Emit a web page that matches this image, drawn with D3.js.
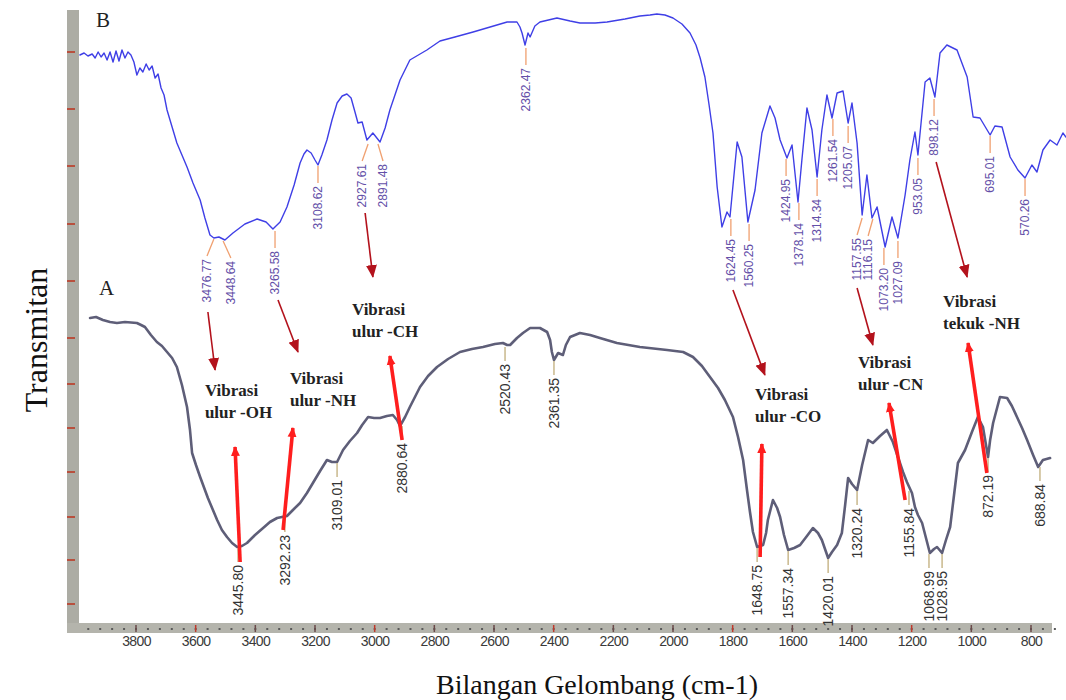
<!DOCTYPE html>
<head>
  <meta charset="utf-8">
  <title>FTIR</title>
</head>
<style>
  body {
    margin: 0;
    background: #fff;
  }
  .curve {
    fill: none;
    stroke-linejoin: round;
    stroke-linecap: round;
  }
  .b_label {
    font-family: "Liberation Sans", Arial, sans-serif;
    font-size: 12px;
    fill: #6450a8;
  }
  .a_label {
    font-family: "Liberation Sans Narrow", "Liberation Sans", sans-serif;
    font-size: 14px;
    fill: #333;
  }
  .note {
    font-family: "Liberation Serif", serif;
    font-weight: bold;
    font-size: 17px;
    fill: #222;
  }
  .x_axis text {
    font-family: "Liberation Sans", Arial, sans-serif;
    font-size: 14px;
    fill: #3a3a3a;
    letter-spacing: -0.6px;
  }
</style>
<body>
  <svg width="1066" height="700"></svg>
<script src="https://cdn.jsdelivr.net/npm/d3@7/dist/d3.min.js"></script>
<script>
  // spectrum B (upper, blue): [wavenumber on the printed axis, transmittance]
  var specB = [[3988,113.8],[3974,114.2],[3961,113.6],[3947,114],[3937,113.2],[3927,114.4],[3917,113.4],[3907,114.2],[3897,112.8],[3887,114.4],[3877,112.4],[3867,114.6],[3857,112.6],[3847,114.8],[3837,113.2],[3827,114.4],[3817,113.8],[3807,112.4],[3797,109.8],[3787,111.2],[3777,110.4],[3766,112],[3756,110.8],[3746,111.6],[3736,109.2],[3726,110],[3716,107.2],[3706,105.8],[3696,102.8],[3679,99.4],[3663,96.2],[3646,93.8],[3629,91.4],[3609,88.2],[3585,84.8],[3569,81.2],[3552,77.8],[3539,77.2],[3522,77.4],[3502,76.8],[3475,78.2],[3435,80],[3394,81],[3364,80.4],[3341,79],[3317,80.4],[3294,83.4],[3270,87.8],[3250,92.2],[3237,94],[3227,94.8],[3213,94.2],[3200,92.8],[3190,91.8],[3177,93.8],[3160,96.8],[3143,100.8],[3126,104.2],[3109,105.6],[3093,106],[3079,105.2],[3066,102.4],[3056,100.2],[3042,100.4],[3026,96.8],[3006,98.2],[2982,96.4],[2965,99.2],[2949,102.8],[2915,108.8],[2882,112.8],[2825,114.8],[2781,116.6],[2731,117.4],[2670,118.4],[2613,119.4],[2556,120.4],[2523,120.4],[2513,119.4],[2506,118.2],[2496,115.8],[2486,118.2],[2479,117.4],[2463,119.6],[2446,120.4],[2389,121.2],[2345,120.6],[2312,120.2],[2261,120.2],[2221,120.4],[2161,121],[2111,121.6],[2077,121.8],[2054,122],[2027,121.8],[2000,121.2],[1970,120],[1943,118.2],[1923,115.8],[1909,113.2],[1893,109.4],[1879,103.8],[1866,98.2],[1852,87.4],[1836,79.4],[1819,82.4],[1809,81.4],[1785,96.4],[1769,93.4],[1749,80.4],[1725,86.8],[1702,98.2],[1675,103.6],[1658,101.2],[1641,96.8],[1618,93.2],[1601,95.8],[1581,84.4],[1568,92.8],[1551,103.2],[1534,98.8],[1517,89.4],[1501,98.8],[1484,105.8],[1467,101.2],[1450,106.2],[1430,106.6],[1413,100.2],[1400,104.2],[1383,96.2],[1366,81.8],[1350,89.8],[1333,81.2],[1316,83.4],[1289,75.4],[1266,81.4],[1246,77.2],[1222,85.8],[1206,92.8],[1189,98.4],[1179,93.8],[1155,108.4],[1139,109.2],[1122,105.4],[1105,114.2],[1082,115.8],[1048,114.8],[1014,109.4],[994,101.4],[971,101.2],[937,97.8],[921,99.6],[897,99.4],[870,93.4],[844,90.8],[820,89.2],[797,91.8],[780,90.4],[760,94.8],[736,96.8],[713,95.8],[693,98.2],[683,97.4]];

  // spectrum A (lower, grey)
  var specA = [[3954,61.2],[3934,61.4],[3911,60.8],[3887,60.4],[3864,60.2],[3837,60.4],[3797,60.2],[3783,59.8],[3770,59.4],[3750,57.8],[3730,56.4],[3713,55.6],[3696,54.4],[3679,53.2],[3663,51.4],[3646,47.8],[3629,43.4],[3619,38.8],[3612,34.2],[3599,31.8],[3585,29.4],[3559,25.2],[3528,20.8],[3512,18.8],[3495,17.4],[3478,16.2],[3461,15.4],[3445,15.6],[3428,16.2],[3401,17.8],[3374,19.2],[3351,20.4],[3327,21.2],[3311,21.4],[3294,21.6],[3274,22.8],[3250,24.2],[3227,26.2],[3207,28.2],[3183,30.6],[3160,32.8],[3143,32.4],[3126,32.4],[3116,33.6],[3106,34.8],[3083,36.6],[3059,38.2],[3042,39.8],[3022,41.4],[3002,41.2],[2982,41.2],[2959,41.6],[2939,41.8],[2925,40.8],[2915,39.6],[2898,41.4],[2882,43.4],[2865,45.4],[2848,47.4],[2821,49.6],[2791,51.4],[2754,53],[2714,54.4],[2674,55],[2637,55.4],[2597,56],[2570,56.2],[2556,55.8],[2546,55.8],[2523,57.2],[2503,58.2],[2479,59.2],[2446,59.2],[2422,58.4],[2412,56.8],[2406,54.4],[2399,52.8],[2385,54.2],[2369,53.8],[2359,55.8],[2345,57.4],[2312,58.2],[2278,57.8],[2245,57.2],[2188,56.2],[2111,55.4],[2020,54.8],[1966,54.4],[1933,53.4],[1903,51.6],[1876,49.4],[1849,47.2],[1826,44.8],[1799,41.4],[1782,37.4],[1765,32.8],[1752,26.8],[1742,22.4],[1732,18.4],[1718,15.4],[1698,15.8],[1688,18.2],[1682,20.8],[1665,24.8],[1651,23.2],[1641,21.4],[1628,17.8],[1614,14.8],[1594,15.2],[1574,15.8],[1551,17.6],[1531,19.2],[1514,18.2],[1501,16.8],[1487,14.4],[1480,13.2],[1467,14.4],[1450,15.8],[1434,18.2],[1423,23.8],[1413,29.2],[1400,28],[1383,26.8],[1366,31.8],[1346,36.8],[1330,36.2],[1306,37.6],[1283,38.8],[1273,37.6],[1263,36.4],[1246,33.4],[1229,30.4],[1216,28.4],[1199,26.2],[1189,23.4],[1179,21.8],[1165,20.2],[1152,17.2],[1139,14.2],[1125,15],[1115,15.4],[1098,14.2],[1085,16.8],[1071,19.4],[1058,25.8],[1045,32.2],[1021,34.8],[998,38.4],[978,41.4],[961,39.4],[944,33.4],[937,36.8],[927,40.2],[904,45.4],[880,45.2],[864,43.6],[847,41.4],[830,39.2],[813,36.8],[793,33.8],[776,31.4],[760,32.8],[736,33.2]];

  // peak labels: text, dip wavenumber, dip transmittance, wavenumber where the text sits
  var peaksB = [["3476.77",3539,77.2,3562],["3448.64",3508,76.8,3482],["3265.58",3334,78.8,3334],["3108.62",3190,91.8,3190],["2927.61",3022,96.2,3042],["2891.48",2989,96.2,2972],["2362.47",2493,115.4,2493],["1624.45",1806,81.2,1806],["1560.25",1745,80.2,1745],["1424.95",1621,93.2,1621],["1378.14",1578,84.4,1578],["1314.34",1517,89.2,1517],["1261.54",1464,101.2,1464],["1205.07",1413,99.8,1413],["1157.55",1366,81.4,1383],["1116.15",1330,81.2,1346],["1073.20",1293,75.4,1293],["1027.09",1246,76.8,1246],["953.05",1179,93.4,1179],["898.12",1125,105.2,1125],["695.01",937,97.8,937],["570.26",820,89.2,820]];
  var peaksA = [["3445.80",3458,15.4],["3292.23",3301,21.4],["3109.01",3126,32.4],["2880.64",2908,39.8],["2520.43",2563,55.6],["2361.35",2399,52.8],["1648.75",1718,15.4],["1557.34",1614,14.8],["1420.01",1480,13.2],["1320.24",1383,26.8],["1155.84",1209,26.8],["1068.99",1142,14.2],["1028.95",1098,14.2],["872.19",944,33.4],["688.84",770,31.6]];

  // annotation arrows [wn0, t0, wn1, t1] (head at the second point)
  var arrowsDown = [[3559,62.4,3535,50.8],[3324,64.8,3257,54.4],[3032,82.2,3006,69.4],[1799,66.8,1692,49.8],[1383,67.2,1330,55.8],[1118,92.4,1014,69.4]];
  var arrowsUp = [[3451,12.4,3468,35.4],[3307,18.8,3274,39.2],[2908,36.8,2949,53.6],[1708,13.4,1702,36],[1222,24.8,1276,44.2],[948,30.2,1011,56.2]];
  var notes = [["Vibrasi","ulur -OH",3569,45.6],["Vibrasi","ulur -NH",3284,48],["Vibrasi","ulur -CH",3076,61.8],["Vibrasi","ulur -CO",1725,44.8],["Vibrasi","ulur -CN",1380,51.2],["Vibrasi","tekuk -NH",1095,63.4]];

  var xMajor = d3.range(3800, 799, -200);
  var xMinor = d3.range(3960, 680, -40);
  var yTicks = [114.4,103,91.6,80,68.6,57.2,48,39.2,30.4,21.4,12.8,4];

  var svg = d3.select('svg');
  function translate(x,y) {
    return 'translate(' + x + ', ' + y + ')';
  }

  var x = d3.scaleLinear().domain([3800, 800]).range([136, 1031]);
  var y = d3.scaleLinear().domain([0, 120]).range([624, 24]);

  var defs = svg.append('defs');
  defs.append('marker').attr('id', 'headDark')
      .attr('markerUnits', 'userSpaceOnUse')
      .attr('viewBox', '0 -6 13 12').attr('refX', 12).attr('refY', 0)
      .attr('markerWidth', 13).attr('markerHeight', 12).attr('orient', 'auto')
    .append('path').attr('d', 'M0,-5.5L13,0L0,5.5Z').attr('fill', '#b3121c');
  defs.append('marker').attr('id', 'headRed')
      .attr('markerUnits', 'userSpaceOnUse')
      .attr('viewBox', '0 -5 10 10').attr('refX', 9).attr('refY', 0)
      .attr('markerWidth', 10).attr('markerHeight', 10).attr('orient', 'auto')
    .append('path').attr('d', 'M0,-4.5L10,0L0,4.5Z').attr('fill', '#ff1e1e');

  // frame bars
  svg.append('rect').attr('x', 67).attr('y', 10).attr('width', 12).attr('height', 623).attr('fill', '#acaca4');
  svg.append('rect').attr('x', 67).attr('y', 623).attr('width', 985).attr('height', 10).attr('fill', '#b4b4ac');

  svg.selectAll('.ytick')
      .data(yTicks)
    .enter().append('line')
      .attr('class', 'ytick')
      .attr('x1', 67).attr('x2', 75)
      .attr('y1', d => y(d)).attr('y2', d => y(d))
      .attr('stroke', '#b8503e').attr('stroke-width', 2);

  svg.selectAll('.xminor')
      .data(xMinor)
    .enter().append('rect')
      .attr('class', 'xminor')
      .attr('x', d => x(d) - 1).attr('y', 628)
      .attr('width', 2).attr('height', 2)
      .attr('fill', '#5a5a5a');

  svg.selectAll('.xmajor')
      .data(xMajor)
    .enter().append('line')
      .attr('class', 'xmajor')
      .attr('x1', d => x(d)).attr('x2', d => x(d))
      .attr('y1', 625).attr('y2', 632)
      .attr('stroke', (d, i) => i % 3 == 1 ? '#c0392b' : '#6a4a4a').attr('stroke-width', 1.5);

  var xAxis = d3.axisBottom(x).tickValues(xMajor).tickSize(0).tickPadding(4).tickFormat(d3.format('d'));
  svg.append('g')
      .attr('class', 'x_axis')
      .attr('transform', translate(0, 632))
      .call(xAxis)
      .call(g => g.select('.domain').remove());

  // spectra
  var line = d3.line().x(d => x(d[0])).y(d => y(d[1]));
  svg.append('path').datum(specB).attr('class', 'curve')
      .attr('d', line).attr('stroke', '#3f3fe6').attr('stroke-width', 1.4);
  svg.append('path').datum(specA).attr('class', 'curve')
      .attr('d', line).attr('stroke', '#5e5e78').attr('stroke-width', 2.6);

  // peak labels B
  var gb = svg.append('g');
  gb.selectAll('.btick').data(peaksB).enter().append('line')
      .attr('x1', d => x(d[1])).attr('y1', d => y(d[2]) + 1)
      .attr('x2', d => x(d[3])).attr('y2', d => y(d[2]) + 18)
      .attr('stroke', '#f0a070').attr('stroke-width', 1.3);
  gb.selectAll('.b_label').data(peaksB).enter().append('text')
      .attr('class', 'b_label')
      .attr('transform', d => translate(x(d[3]), y(d[2]) + 21) + ' rotate(-90)')
      .attr('text-anchor', 'end')
      .attr('dy', '0.35em')
      .text(d => d[0]);

  // peak labels A
  var ga = svg.append('g');
  ga.selectAll('.atick').data(peaksA).enter().append('line')
      .attr('x1', d => x(d[1])).attr('y1', d => y(d[2]) + 1)
      .attr('x2', d => x(d[1])).attr('y2', d => y(d[2]) + 15)
      .attr('stroke', '#c9b88c').attr('stroke-width', 1.5);
  ga.selectAll('.a_label').data(peaksA).enter().append('text')
      .attr('class', 'a_label')
      .attr('transform', d => translate(x(d[1]), y(d[2]) + 18) + ' rotate(-90)')
      .attr('text-anchor', 'end')
      .attr('dy', '0.35em')
      .text(d => d[0]);

  // arrows
  svg.selectAll('.arrow_down').data(arrowsDown).enter().append('line')
      .attr('x1', d => x(d[0])).attr('y1', d => y(d[1]))
      .attr('x2', d => x(d[2])).attr('y2', d => y(d[3]))
      .attr('stroke', '#b3121c').attr('stroke-width', 1.6)
      .attr('marker-end', 'url(#headDark)');
  svg.selectAll('.arrow_up').data(arrowsUp).enter().append('line')
      .attr('x1', d => x(d[0])).attr('y1', d => y(d[1]))
      .attr('x2', d => x(d[2])).attr('y2', d => y(d[3]))
      .attr('stroke', '#ff1e1e').attr('stroke-width', 3.6)
      .attr('marker-end', 'url(#headRed)');

  // notes
  var note = svg.selectAll('.note').data(notes).enter().append('text')
      .attr('class', 'note')
      .attr('x', d => x(d[2])).attr('y', d => y(d[3]));
  note.append('tspan').text(d => d[0]);
  note.append('tspan').attr('x', d => x(d[2])).attr('dy', 22).text(d => d[1]);

  // panel letters and titles
  svg.append('text').attr('x', 96).attr('y', 27)
      .attr('font-family', 'Liberation Serif').attr('font-size', 21).attr('fill', '#222').text('B');
  svg.append('text').attr('x', 99).attr('y', 295)
      .attr('font-family', 'Liberation Serif').attr('font-size', 21).attr('fill', '#222').text('A');
  svg.append('text')
      .attr('transform', translate(47, 340) + ' rotate(-90)')
      .attr('text-anchor', 'middle')
      .attr('font-family', 'Liberation Serif').attr('font-size', 32).attr('fill', '#111')
      .text('Transmitan');
  svg.append('text')
      .attr('x', 597).attr('y', 694)
      .attr('text-anchor', 'middle')
      .attr('font-family', 'Liberation Serif').attr('font-size', 28).attr('fill', '#111')
      .text('Bilangan Gelombang (cm-1)');
</script>
</body>
